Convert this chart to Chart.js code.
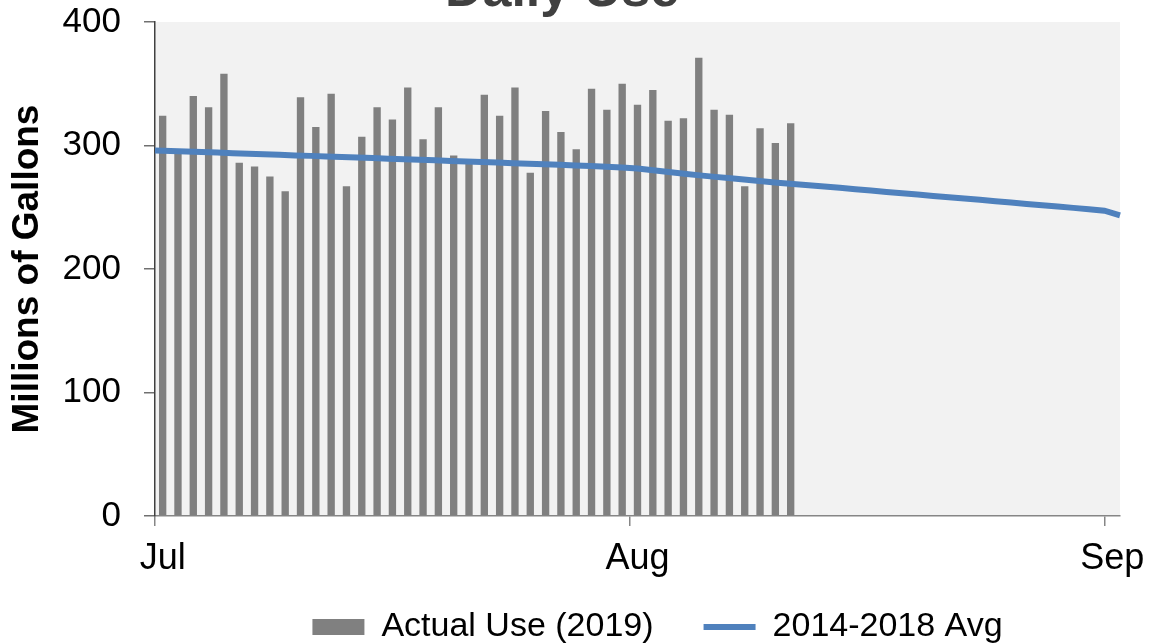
<!DOCTYPE html>
<html>
<head>
<meta charset="utf-8">
<script src="https://cdn.jsdelivr.net/npm/chart.js@4/dist/chart.umd.min.js"></script>
<style>
  html, body { margin: 0; padding: 0; background: #fff; }
  #wrap { width: 1151px; height: 643px; }
</style>
</head>
<body>
<div id="wrap"><canvas id="chart" width="1151" height="643"></canvas></div>
<script>
const days = [
  'Jul 1','Jul 2','Jul 3','Jul 4','Jul 5','Jul 6','Jul 7','Jul 8','Jul 9','Jul 10',
  'Jul 11','Jul 12','Jul 13','Jul 14','Jul 15','Jul 16','Jul 17','Jul 18','Jul 19','Jul 20',
  'Jul 21','Jul 22','Jul 23','Jul 24','Jul 25','Jul 26','Jul 27','Jul 28','Jul 29','Jul 30','Jul 31',
  'Aug 1','Aug 2','Aug 3','Aug 4','Aug 5','Aug 6','Aug 7','Aug 8','Aug 9','Aug 10',
  'Aug 11','Aug 12','Aug 13','Aug 14','Aug 15','Aug 16','Aug 17','Aug 18','Aug 19','Aug 20',
  'Aug 21','Aug 22','Aug 23','Aug 24','Aug 25','Aug 26','Aug 27','Aug 28','Aug 29','Aug 30','Aug 31',
  'Sep 1'
];
const monthTicks = { 'Jul 1': 'Jul', 'Aug 1': 'Aug', 'Sep 1': 'Sep' };

// Actual Use (2019), Jul 1 - Aug 11
const actualUse = [
  324, 294, 340, 331, 358, 286, 283, 275, 263, 339,
  315, 342, 267, 307, 331, 321, 347, 305, 331, 292,
  285, 341, 324, 347, 278, 328, 311, 297, 346, 329, 350,
  333, 345, 320, 322, 371, 329, 325, 267, 314, 302,
  318
];

// 2014-2018 average, Jul 1 - Sep 1
const avgUse = [
  296.0, 295.6, 295.2, 294.7, 294.3, 293.8, 293.4, 292.9, 292.5, 292.0,
  291.6, 291.1, 290.7, 290.2, 289.8, 289.3, 288.9, 288.4, 288.0, 287.5,
  287.1, 286.6, 286.2, 285.7, 285.3, 284.8, 284.4, 283.9, 283.4, 282.8, 282.2,
  281.3, 280.0, 278.6, 277.2, 275.8, 274.6, 273.4, 272.2, 271.0, 269.8,
  268.8, 267.8, 266.8, 265.7, 264.6, 263.5, 262.4, 261.4, 260.3, 259.2,
  258.1, 257.0, 256.0, 254.9, 253.8, 252.7, 251.6, 250.6, 249.5, 248.4, 247.2,
  243.5
];

const yTicks = [0, 100, 200, 300, 400];

const plotBg = {
  id: 'plotBg',
  beforeDraw(chart) {
    const { ctx, chartArea: a } = chart;
    ctx.save();
    ctx.fillStyle = '#f2f2f2';
    ctx.fillRect(a.left, a.top, a.right - a.left, a.bottom - a.top);
    ctx.restore();
  }
};

// title sits mostly above the top edge, as in the original
const topTitle = {
  id: 'topTitle',
  afterDraw(chart) {
    const ctx = chart.ctx;
    ctx.save();
    ctx.font = 'bold 52px "Liberation Sans", Arial, sans-serif';
    ctx.fillStyle = '#404040';
    ctx.textAlign = 'center';
    ctx.textBaseline = 'alphabetic';
    ctx.fillText('Daily Use', 562, 6);
    ctx.restore();
  }
};

// move the legend row: a bit right, and up into its padding
const legendShift = {
  id: 'legendShift',
  afterLayout(chart) {
    const lg = chart.legend;
    if (!lg) return;
    lg.left += 40;
    lg.top -= 24;
    lg.bottom -= 24;
  }
};

const fam = '"Liberation Sans", Arial, sans-serif';

new Chart(document.getElementById('chart'), {
  data: {
    labels: days,
    datasets: [
      {
        type: 'line',
        label: '2014-2018 Avg',
        data: avgUse,
        xAxisID: 'xLine',
        borderColor: '#4f81bd',
        backgroundColor: '#4f81bd',
        borderWidth: 6,
        pointRadius: 0,
        tension: 0,
        pointStyle: 'line',
        order: 0
      },
      {
        type: 'bar',
        label: 'Actual Use (2019)',
        data: actualUse,
        xAxisID: 'x',
        grouped: false,
        backgroundColor: '#808080',
        borderWidth: 0,
        barPercentage: 0.48,
        categoryPercentage: 1,
        pointStyle: 'rect',
        order: 1
      }
    ]
  },
  options: {
    responsive: false,
    animation: false,
    layout: { padding: { top: 22, right: 31, left: 0, bottom: -35 } },
    scales: {
      x: {
        offset: true,
        afterFit: s => { s.height = 68; s.paddingLeft = 0; s.paddingRight = 0; },
        border: { color: '#868686', width: 1.5 },
        grid: {
          offset: true,
          drawOnChartArea: false,
          drawTicks: true,
          tickLength: 10,
          lineWidth: 1.5,
          color: c => (c.index === 0 || c.index === 31 || c.index === 62) ? '#868686' : 'rgba(0,0,0,0)'
        },
        ticks: {
          autoSkip: false,
          maxRotation: 0,
          padding: 11,
          color: '#000',
          font: { family: fam, size: 36 },
          callback: function (v, i) { return monthTicks[days[i]] || ''; }
        }
      },
      // the average line runs edge to edge of the plot
      xLine: {
        type: 'category',
        display: false,
        offset: false
      },
      y: {
        min: 0,
        max: 400,
        afterBuildTicks: s => { s.ticks = yTicks.map(v => ({ value: v })); },
        afterFit: s => { s.width = 155; s.paddingTop = 0; s.paddingBottom = 0; },
        border: { color: '#404040', width: 1.5 },
        grid: { drawOnChartArea: false, tickLength: 11, color: '#707070', lineWidth: 1.5 },
        ticks: { padding: 23, color: '#000', font: { family: fam, size: 35 } },
        title: {
          display: true,
          text: 'Millions of Gallons',
          color: '#000',
          font: { family: fam, size: 37, weight: 'bold' },
          padding: { top: 6, bottom: 0 }
        }
      }
    },
    plugins: {
      title: { display: false },
      tooltip: { enabled: false },
      legend: {
        position: 'bottom',
        fullSize: false,
        reverse: true,
        labels: {
          usePointStyle: true,
          pointStyleWidth: 52,
          boxHeight: 16,
          padding: 50,
          color: '#000',
          font: { family: fam, size: 34 }
        }
      }
    }
  },
  plugins: [plotBg, topTitle, legendShift]
});
</script>
</body>
</html>
